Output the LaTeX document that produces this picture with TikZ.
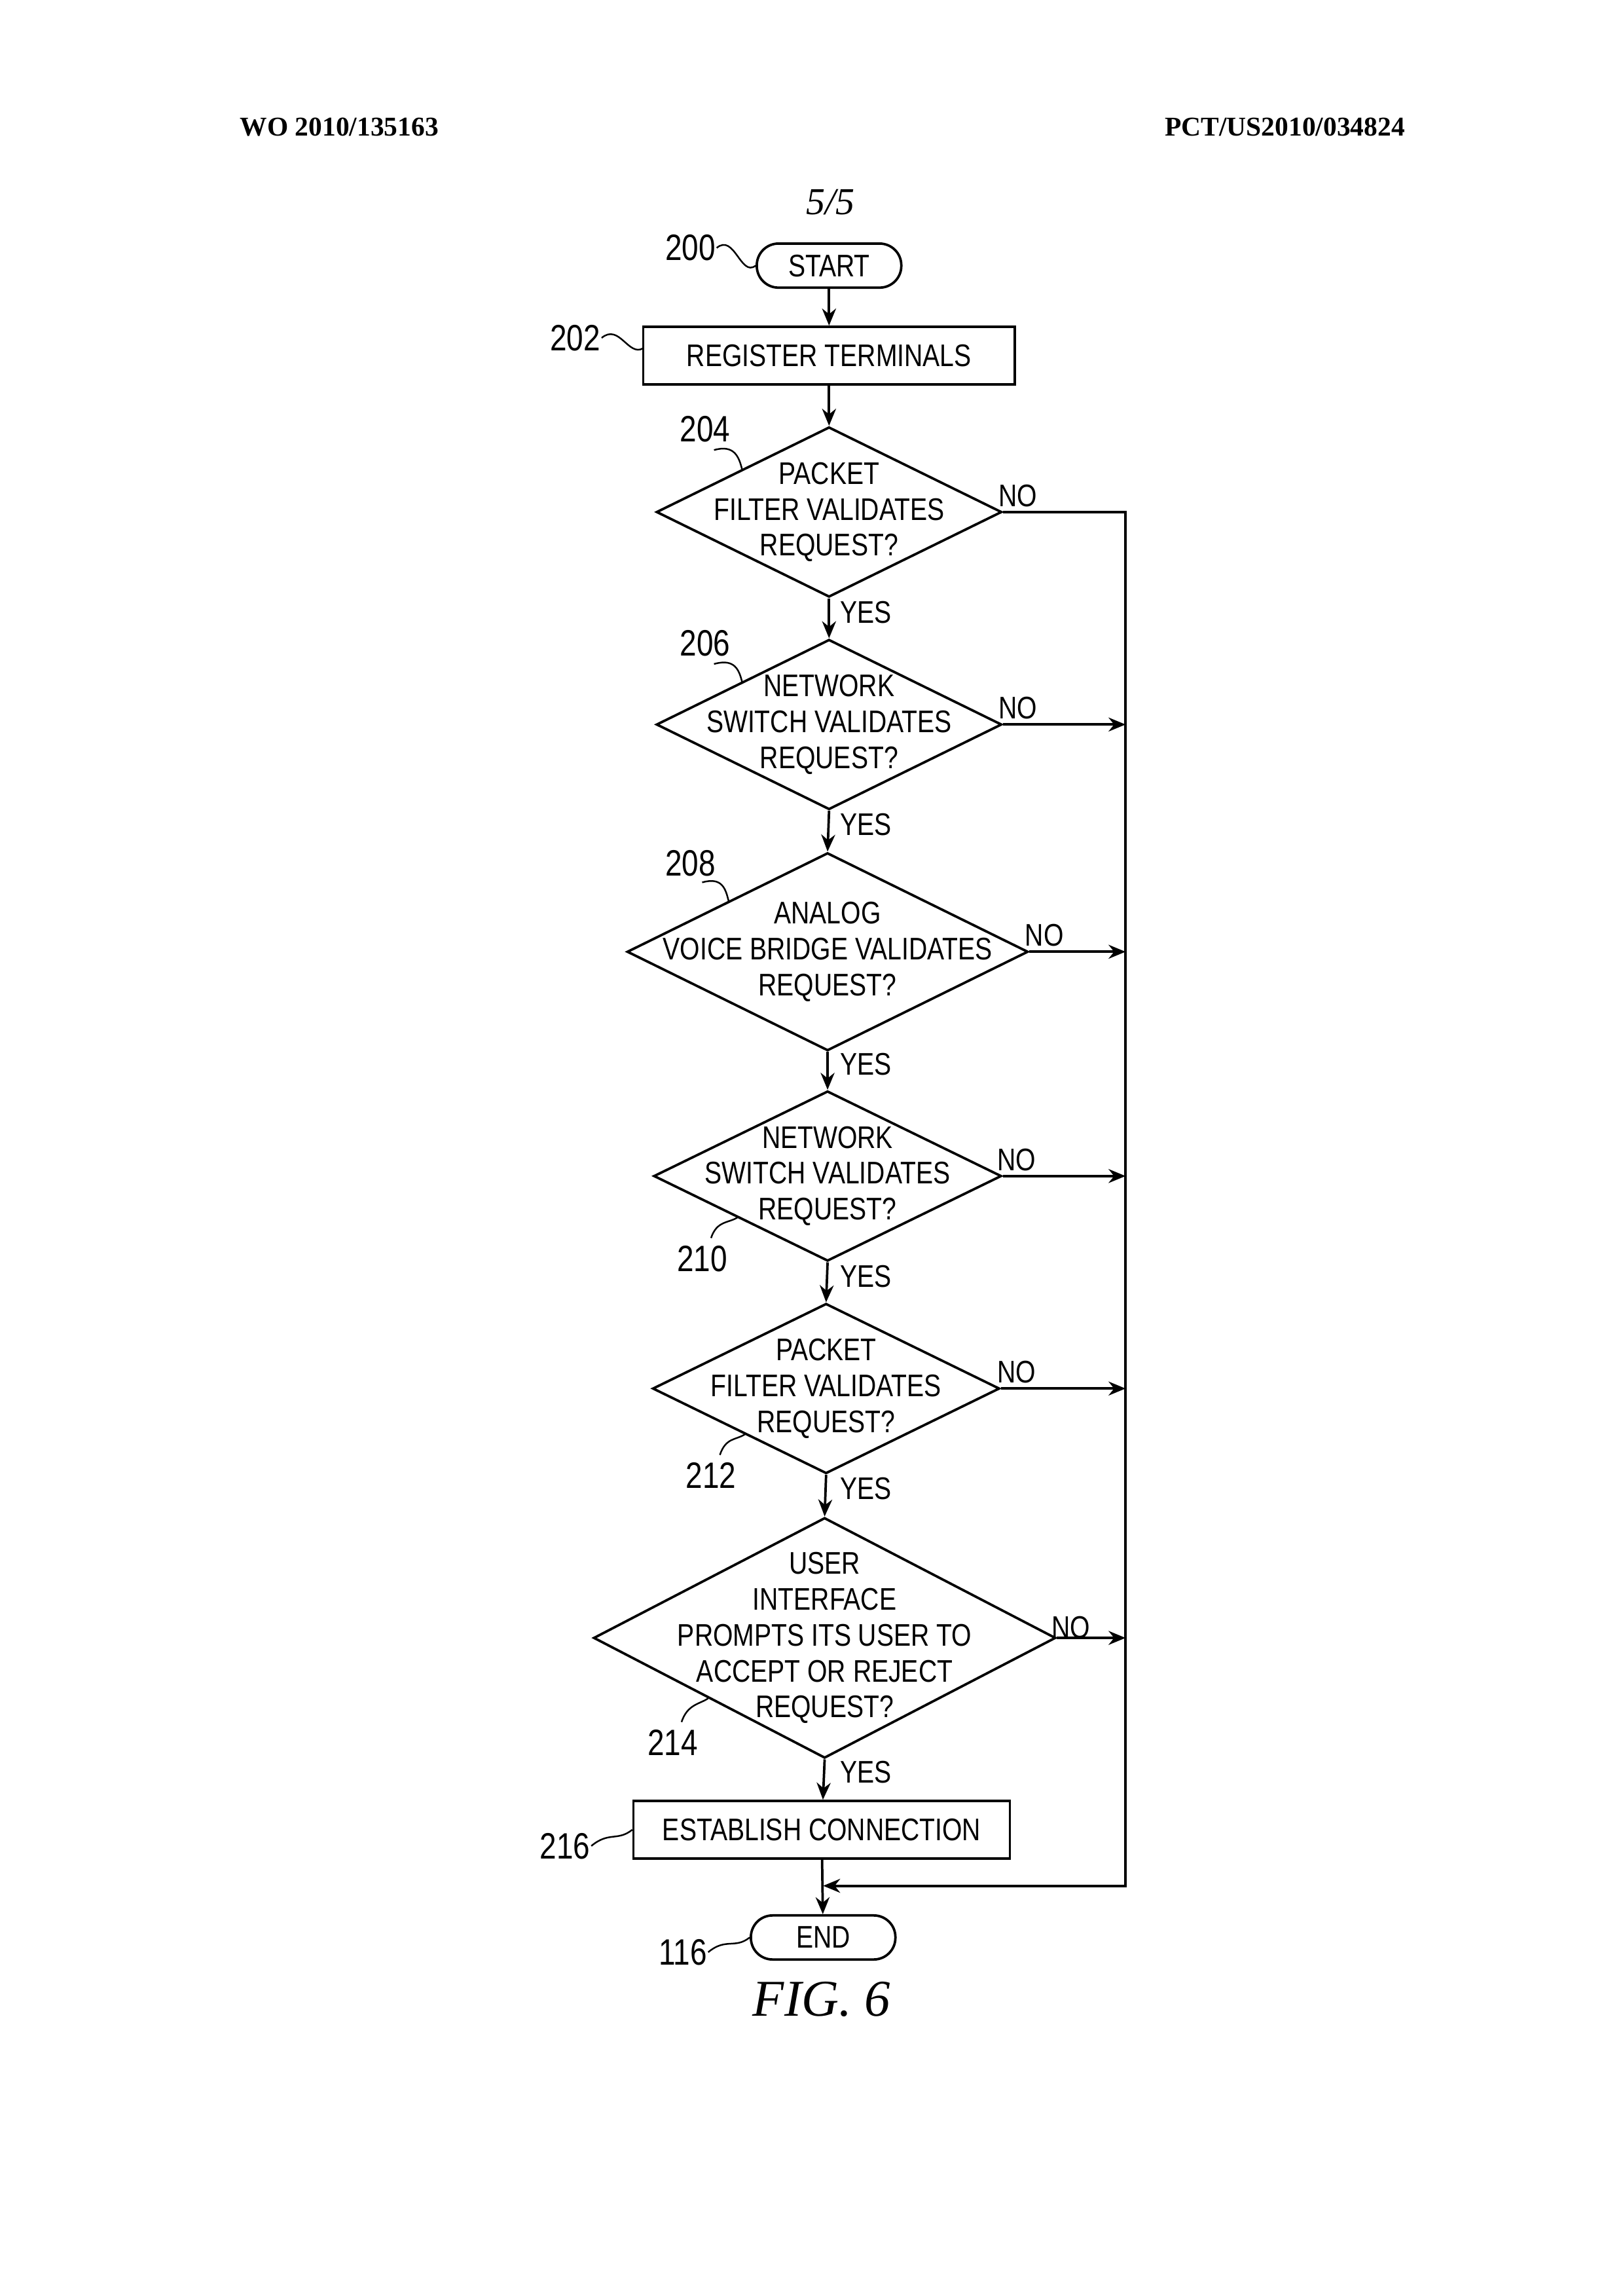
\documentclass[tikz,border=0pt]{standalone}
\usepackage{fontspec}
\setmainfont{Liberation Serif}
\newfontfamily\flowfont{Liberation Sans}[FakeStretch=0.82]
\usetikzlibrary{shapes.geometric,arrows.meta}
\begin{document}
\begin{tikzpicture}
[
 x=0.01909cm, y=-0.01909cm,
 line width=0.9pt,
 every node/.style={font=\flowfont\fontsize{11.5}{13.2}\selectfont},
 term/.style={rectangle, rounded corners=0.28cm, draw, minimum width=1.87cm, minimum height=0.57cm, inner sep=0},
 proc/.style={rectangle, draw, minimum height=0.745cm, inner sep=0},
 dec/.style={diamond, draw, inner sep=0},
 txt/.style={align=center, inner sep=0},
 refno/.style={inner sep=0, font=\flowfont\fontsize{13.5}{15}\selectfont},
 lead/.style={line width=0.6pt},
 arr/.style={-{Stealth[length=2.2mm,width=1.8mm]}}
 ]
\useasboundingbox (0,0) rectangle (1100,1556);
%
\node [inner sep=0, font=\bfseries\fontsize{10}{12}\selectfont] (hl) at (230,86) {WO 2010/135163};
\node [inner sep=0, font=\bfseries\fontsize{10}{12}\selectfont] (hr) at (871,86) {PCT/US2010/034824};
\node [inner sep=0, font=\itshape\fontsize{14}{16}\selectfont] (pg) at (563,137) {5/5};
%
\node [term] (start) at (562,180) {START};
\node [proc, minimum width=4.81cm] (reg) at (562,241) {REGISTER TERMINALS};
\node [dec, minimum width=4.47cm, minimum height=2.2cm] (d204) at (562,347) {};
\node [dec, minimum width=4.47cm, minimum height=2.2cm] (d206) at (562,491) {};
\node [dec, minimum width=5.19cm, minimum height=2.56cm] (d208) at (561,645) {};
\node [dec, minimum width=4.5cm, minimum height=2.2cm] (d210) at (561,797) {};
\node [dec, minimum width=4.49cm, minimum height=2.2cm] (d212) at (560,941) {};
\node [dec, minimum width=5.98cm, minimum height=3.11cm] (d214) at (559,1110) {};
\node [proc, minimum width=4.87cm] (conn) at (557,1240) {ESTABLISH CONNECTION};
\node [term] (stop) at (558,1313) {END};
%
\node [txt] at (d204) {PACKET\\FILTER VALIDATES\\REQUEST?};
\node [txt] at (d206) {NETWORK\\SWITCH VALIDATES\\REQUEST?};
\node [txt] at (d208) {ANALOG\\VOICE BRIDGE VALIDATES\\REQUEST?};
\node [txt] at (d210) {NETWORK\\SWITCH VALIDATES\\REQUEST?};
\node [txt] at (d212) {PACKET\\FILTER VALIDATES\\REQUEST?};
\node [txt] at (d214) {USER\\INTERFACE\\PROMPTS ITS USER TO\\ACCEPT OR REJECT\\REQUEST?};
%
\node [inner sep=0, font=\itshape\fontsize{19}{22}\selectfont] (fig) at (557,1355) {FIG. 6};
%
\coordinate (rt) at (763,347);
\coordinate (rb) at (763,1278);
\coordinate (jn) at (558,1278);
%
\draw [arr] (start) -- (reg);
\draw [arr] (reg) -- (d204.north);
\draw [arr] (d204.south) -- (d206.north);
\draw [arr] (d206.south) -- (d208.north);
\draw [arr] (d208.south) -- (d210.north);
\draw [arr] (d210.south) -- (d212.north);
\draw [arr] (d212.south) -- (d214.north);
\draw [arr] (d214.south) -- (conn);
\draw [arr] (conn) -- (stop);
%
\draw [arr] (d204.east) -- (rt) -- (rb) -- (jn);
\draw [arr] (d206.east) -- (d206.east -| rt);
\draw [arr] (d208.east) -- (d208.east -| rt);
\draw [arr] (d210.east) -- (d210.east -| rt);
\draw [arr] (d212.east) -- (d212.east -| rt);
\draw [arr] (d214.east) -- (d214.east -| rt);
%
\foreach \y in {415,559,721,865,1009,1201} \node [inner sep=0] at (587,\y) {YES};
\node [inner sep=0] at (690,336) {NO};
\node [inner sep=0] at (690,480) {NO};
\node [inner sep=0] at (708,634) {NO};
\node [inner sep=0] at (689,786) {NO};
\node [inner sep=0] at (689,930) {NO};
\node [inner sep=0] at (726,1103) {NO};
%
\node [refno] (r200) at (468,168) {200};
\node [refno] (r202) at (390,229) {202};
\node [refno] (r204) at (478,291) {204};
\node [refno] (r206) at (478,436) {206};
\node [refno] (r208) at (468,585) {208};
\node [refno] (r210) at (476,853) {210};
\node [refno] (r212) at (482,1000) {212};
\node [refno] (r214) at (456,1181) {214};
\node [refno] (r216) at (383,1251) {216};
\node [refno] (r116) at (463,1323) {116};
%
\draw [lead] (r200.east) .. controls +(12,-10) and +(-10,8) .. (start.west);
\draw [lead] (r202.east) .. controls +(12,-10) and +(-10,6) .. (436,236);
\draw [lead] (484,305) .. controls +(14,-4) and +(-2,-8) .. (503,318);
\draw [lead] (484,450) .. controls +(14,-4) and +(-2,-8) .. (503,462);
\draw [lead] (476,598) .. controls +(14,-4) and +(-2,-8) .. (494,611);
\draw [lead] (482,839) .. controls +(4,-12) and +(-6,4) .. (500,825);
\draw [lead] (488,986) .. controls +(4,-12) and +(-6,4) .. (505,972);
\draw [lead] (462,1167) .. controls +(4,-12) and +(-6,4) .. (480,1151);
\draw [lead] (r216.east) .. controls +(12,-10) and +(-10,8) .. (conn.west);
\draw [lead] (r116.east) .. controls +(12,-10) and +(-10,8) .. (stop.west);
\end{tikzpicture}
\end{document}
